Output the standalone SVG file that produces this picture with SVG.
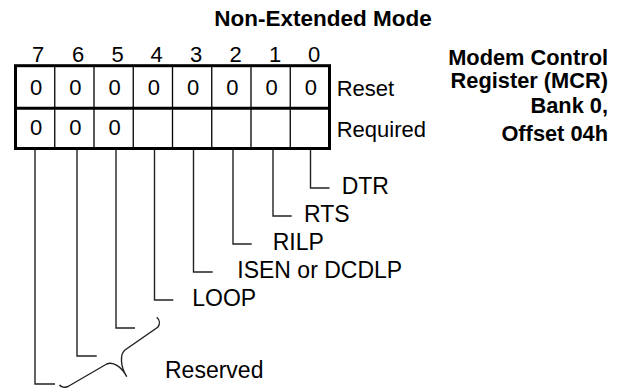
<svg xmlns="http://www.w3.org/2000/svg" width="626" height="392" viewBox="0 0 626 392">
<style>
text{font-family:"Liberation Sans",Arial,sans-serif;fill:#000}
.t{font-size:22px}
.l{font-size:23px}
.b{font-weight:bold}
.c{text-anchor:middle}
.r{text-anchor:end}
.thick{fill:none;stroke:#000;stroke-width:3}
.thin{fill:none;stroke:#000;stroke-width:1.3}
.conn{fill:none;stroke:#222;stroke-width:1.4}
</style>
<rect width="626" height="392" fill="#fff"/>
<g id="title"><text class="b c" x="323" y="26" font-size="22.5">Non-Extended Mode</text></g>
<g id="register-name">
<text class="b r" x="608" y="65" font-size="21.8">Modem Control</text>
<text class="b r" x="608" y="88" font-size="21.8">Register (MCR)</text>
<text class="b r" x="608" y="113" font-size="21.8">Bank 0,</text>
<text class="b r" x="608" y="141" font-size="21.8">Offset 04h</text>
</g>
<g id="bit-numbers">
<text class="t c" x="38" y="62">7</text>
<text class="t c" x="78" y="62">6</text>
<text class="t c" x="117.5" y="62">5</text>
<text class="t c" x="156.5" y="62">4</text>
<text class="t c" x="196" y="62">3</text>
<text class="t c" x="235.5" y="62">2</text>
<text class="t c" x="275" y="62">1</text>
<text class="t c" x="314" y="62">0</text>
</g>
<g id="register-box">
<path class="thin" d="M54.75,66V149M94,66V149M133.25,66V149M172.5,66V149M211.75,66V149M251,66V149M290.25,66V149"/>
<line class="thick" x1="15.5" y1="108.3" x2="329.5" y2="108.3"/>
<rect class="thick" x="15.5" y="65.7" width="314" height="82.8"/>
</g>
<g id="reset-row">
<text class="t c" x="36" y="94.5">0</text>
<text class="t c" x="75.4" y="94.5">0</text>
<text class="t c" x="114.6" y="94.5">0</text>
<text class="t c" x="153.9" y="94.5">0</text>
<text class="t c" x="193.1" y="94.5">0</text>
<text class="t c" x="232.4" y="94.5">0</text>
<text class="t c" x="271.6" y="94.5">0</text>
<text class="t c" x="310.9" y="94.5">0</text>
<text class="t" x="336.7" y="96">Reset</text>
</g>
<g id="required-row">
<text class="t c" x="36" y="134.5">0</text>
<text class="t c" x="75.4" y="134.5">0</text>
<text class="t c" x="114.6" y="134.5">0</text>
<text class="t" x="336.7" y="136.7">Required</text>
</g>
<g id="connectors">
<path class="conn" d="M310.5,150V188H329.5"/>
<path class="conn" d="M273,150V216H291.7"/>
<path class="conn" d="M233,150V244H251.7"/>
<path class="conn" d="M193.5,150V272H212.7"/>
<path class="conn" d="M154.5,150V300H173.3"/>
<path class="conn" d="M116,150V328H135"/>
<path class="conn" d="M77,150V356H96.7"/>
<path class="conn" d="M35,150V384H55"/>
<path class="conn" d="M156.7,317.3C160,320 160,324 158,327L125,350C120,354 120,366 126.7,376.7C122,367 113,361 106.7,364L68,386.5C65,388 61,387 59.5,385"/>
</g>
<g id="label-dtr"><text class="l" x="341.7" y="194">DTR</text></g>
<g id="label-rts"><text class="l" x="304" y="222">RTS</text></g>
<g id="label-rilp"><text class="l" x="272.7" y="250">RILP</text></g>
<g id="label-isen"><text class="l" x="237.3" y="278">ISEN or DCDLP</text></g>
<g id="label-loop"><text class="l" x="192.3" y="306">LOOP</text></g>
<g id="label-reserved"><text class="l" x="165" y="378">Reserved</text></g>
</svg>
